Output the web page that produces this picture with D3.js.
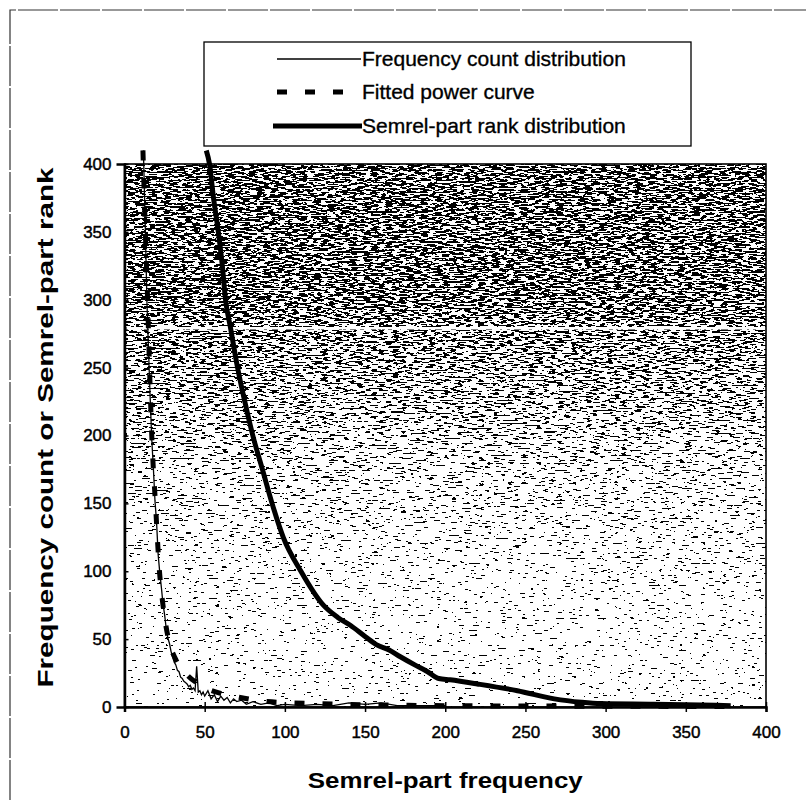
<!DOCTYPE html>
<html>
<head>
<meta charset="utf-8">
<script src="https://d3js.org/d3.v7.min.js"></script>
<style>
  body { margin: 0; background: #fff; }
  svg { display: block; }
  .tick-label { font-family: "Liberation Sans", Arial, sans-serif; font-size: 17px; fill: #000; stroke: #000; stroke-width: 0.45px; }
  .axis-title { font-family: "Liberation Sans", Arial, sans-serif; font-size: 22px; font-weight: bold; fill: #000; }
  .legend-text { font-family: "Liberation Sans", Arial, sans-serif; font-size: 21px; fill: #000; stroke: #000; stroke-width: 0.35px; }
</style>
</head>
<body>
<script>
(function() {

  // Frequency count distribution (semrel-part frequency -> count)
  var freqX = [11.8, 13, 14, 15, 16, 17, 18, 19, 20, 21, 22, 23, 24, 25, 26, 27, 28, 29, 30, 31, 32, 33, 34, 35, 36, 37, 38, 39, 40, 41, 42, 43, 44, 45, 46, 47, 48, 49, 50, 52, 54, 56, 58, 60, 62, 64, 66, 68, 70, 73, 76, 80, 85, 90, 95, 100, 110, 120, 130, 140, 150, 160, 170, 200];
  var freqCount = [410, 352, 298, 262, 228, 197, 176, 152, 136, 112, 99, 88, 76, 68, 58, 51, 47, 41, 37, 33, 31, 27, 26, 22, 21, 19, 18, 17, 15, 16, 13, 14, 12, 30, 11, 12, 9, 11, 8, 12, 6, 9, 4, 8, 5, 7, 3, 6, 4, 5, 2, 4, 2, 3, 1, 2, 1, 2, 1, 3, 2, 3, 1, 1];

  // Fitted power curve
  var powerX = [11.5, 13, 14.4, 15.6, 17, 19.3, 21.8, 24, 27.4, 32, 38, 49, 60, 68, 89, 120, 160, 200, 260, 320, 380];
  var powerY = [410, 350, 300, 250, 200, 150, 100, 75, 50, 35, 25, 15, 10, 8, 4, 2.5, 1.5, 1, 0.7, 0.5, 0.4];

  // Semrel-part rank distribution (frequency -> rank)
  var rankX = [51, 53, 55.5, 58.5, 61, 63, 66, 70.5, 75, 80, 86, 92, 99, 110, 124, 133, 141, 150, 157, 165, 172, 181, 189, 196, 203, 220, 245, 268, 285, 297, 330, 378];
  var rankY = [410, 400, 375, 350, 325, 300, 280, 250, 225, 200, 175, 150, 125, 100, 75, 66, 60, 52, 46, 42, 37, 31, 26, 21, 20, 17, 12, 6, 3.5, 2.5, 2, 1];

  // Axis ticks and labels
  var xTicks = [0, 50, 100, 150, 200, 250, 300, 350, 400];
  var yTicks = [0, 50, 100, 150, 200, 250, 300, 350, 400];
  var xTitle = "Semrel-part frequency";
  var yTitle = "Frequency count or Semrel-part rank";
  var legendLabels = ["Frequency count distribution", "Fitted power curve", "Semrel-part rank distribution"];

  // Scan artefact: white streak across the shading
  var scanLineValue = 279;

  window.onload = setChart();

  function setChart() {
    var width = 806,
        height = 811;

    var svg = d3.select("body")
        .append("svg")
        .attr("width", width)
        .attr("height", height);

    var plot = { left: 124.5, right: 766, top: 164, bottom: 707 };

    var xScale = d3.scaleLinear()
        .domain([0, 400])
        .range([plot.left, plot.right]);
    var yScale = d3.scaleLinear()
        .domain([0, 400])
        .range([plot.bottom, plot.top]);

    setShading(svg, plot, yScale);

    // Outer chart border (only top and left survive in the scan)
    svg.append("path")
        .attr("d", "M10,800V10H806")
        .attr("fill", "none")
        .attr("stroke", "#333")
        .attr("stroke-width", 1.2)
        .attr("stroke-dasharray", "40,2");

    // Plot frame
    svg.append("rect")
        .attr("x", plot.left)
        .attr("y", plot.top)
        .attr("width", plot.right - plot.left)
        .attr("height", plot.bottom - plot.top)
        .attr("fill", "none")
        .attr("stroke", "#000")
        .attr("stroke-width", 1.6);

    setAxes(svg, plot, xScale, yScale);
    setLines(svg, xScale, yScale);
    setLegend(svg);
  };

  // Noisy grey shading of the plot area
  function setShading(svg, plot, yScale) {
    var defs = svg.append("defs");

    var grad = defs.append("linearGradient")
        .attr("id", "shade")
        .attr("x1", 0).attr("y1", 0)
        .attr("x2", 0).attr("y2", 1);
    [[0, "#787878"], [0.25, "#7e7e7e"], [0.45, "#aaaaaa"], [0.6, "#d2d2d2"], [0.8, "#ececec"], [1, "#f4f4f4"]].forEach(function(s) {
      grad.append("stop").attr("offset", s[0]).attr("stop-color", s[1]);
    });

    var filter = defs.append("filter")
        .attr("id", "grain")
        .attr("x", 0).attr("y", 0)
        .attr("width", 1).attr("height", 1)
        .attr("color-interpolation-filters", "sRGB");
    filter.append("feTurbulence")
        .attr("type", "fractalNoise")
        .attr("baseFrequency", "0.14 0.6")
        .attr("numOctaves", 2)
        .attr("seed", 7)
        .attr("result", "noise");
    filter.append("feColorMatrix")
        .attr("in", "noise")
        .attr("type", "matrix")
        .attr("values", "1 0 0 0 0  1 0 0 0 0  1 0 0 0 0  0 0 0 0 1")
        .attr("result", "grey");
    filter.append("feComposite")
        .attr("in", "SourceGraphic")
        .attr("in2", "grey")
        .attr("operator", "arithmetic")
        .attr("k1", 0).attr("k2", 1).attr("k3", 2.2).attr("k4", -1.1)
        .attr("result", "mix");
    var ct = filter.append("feComponentTransfer").attr("in", "mix");
    ["feFuncR", "feFuncG", "feFuncB"].forEach(function(f) {
      ct.append(f).attr("type", "discrete").attr("tableValues", "0 1");
    });

    svg.append("rect")
        .attr("x", plot.left)
        .attr("y", plot.top)
        .attr("width", plot.right - plot.left)
        .attr("height", plot.bottom - plot.top)
        .attr("fill", "url(#shade)")
        .attr("filter", "url(#grain)");

    svg.append("line")
        .attr("x1", plot.left + 2)
        .attr("x2", plot.right - 2)
        .attr("y1", yScale(scanLineValue))
        .attr("y2", yScale(scanLineValue))
        .attr("stroke", "#fff")
        .attr("stroke-width", 2.5);
  };

  // Axes with cross ticks
  function setAxes(svg, plot, xScale, yScale) {
    var xAxis = svg.append("g")
        .attr("transform", "translate(0," + plot.bottom + ")")
        .call(d3.axisBottom(xScale).tickValues(xTicks).tickSize(5).tickFormat(d3.format("d")));
    xAxis.select(".domain").attr("stroke-width", 2.5);
    xAxis.selectAll(".tick line").attr("y1", -5).attr("stroke-width", 1.5);
    xAxis.selectAll(".tick text")
        .attr("class", "tick-label")
        .attr("y", 25)
        .attr("dy", "0.35em")
        .attr("font-family", null)
        .attr("font-size", null);

    var yAxis = svg.append("g")
        .attr("transform", "translate(" + plot.left + ",0)")
        .call(d3.axisLeft(yScale).tickValues(yTicks).tickSize(8).tickFormat(d3.format("d")));
    yAxis.select(".domain").attr("stroke-width", 2.5);
    yAxis.selectAll(".tick line").attr("x2", 4).attr("stroke-width", 1.5);
    yAxis.selectAll(".tick text")
        .attr("class", "tick-label")
        .attr("x", -13)
        .attr("font-family", null)
        .attr("font-size", null);
    svg.selectAll(".domain").attr("stroke", "#000");

    svg.append("text")
        .attr("class", "axis-title")
        .attr("x", (plot.left + plot.right) / 2)
        .attr("y", 788)
        .attr("text-anchor", "middle")
        .attr("textLength", 275)
        .attr("lengthAdjust", "spacingAndGlyphs")
        .text(xTitle);

    svg.append("text")
        .attr("class", "axis-title")
        .attr("transform", "translate(53," + ((plot.top + plot.bottom) / 2 - 8) + ") rotate(-90)")
        .attr("text-anchor", "middle")
        .attr("textLength", 520)
        .attr("lengthAdjust", "spacingAndGlyphs")
        .text(yTitle);
  };

  // Data lines
  function setLines(svg, xScale, yScale) {
    var line = d3.line()
        .x(function(d) { return xScale(d[0]); })
        .y(function(d) { return yScale(d[1]); });

    var freqData = freqX.map(function(x, i) { return [x, freqCount[i]]; });
    var powerData = powerX.map(function(x, i) { return [x, powerY[i]]; });
    var rankData = rankX.map(function(x, i) { return [x, rankY[i]]; });

    svg.append("path")
        .datum(freqData)
        .attr("d", line)
        .attr("fill", "none")
        .attr("stroke", "#000")
        .attr("stroke-width", 1.3);

    svg.append("path")
        .datum(powerData)
        .attr("d", line.curve(d3.curveMonotoneX))
        .attr("fill", "none")
        .attr("stroke", "#000")
        .attr("stroke-width", 5)
        .attr("stroke-dasharray", "10,18");

    svg.append("path")
        .datum(rankData)
        .attr("d", line.curve(d3.curveMonotoneX))
        .attr("fill", "none")
        .attr("stroke", "#000")
        .attr("stroke-width", 5)
        .attr("stroke-linejoin", "round");
  };

  // Legend box
  function setLegend(svg) {
    var legend = svg.append("g");
    legend.append("rect")
        .attr("x", 204)
        .attr("y", 42)
        .attr("width", 487)
        .attr("height", 104)
        .attr("fill", "#fff")
        .attr("stroke", "#000")
        .attr("stroke-width", 1.3);

    var rows = [
      { y: 59, x1: 277, x2: 361, width: 1.3, dash: null },
      { y: 92, x1: 277, x2: 347, width: 5, dash: "10,18" },
      { y: 126, x1: 273, x2: 362, width: 5, dash: null }
    ];

    rows.forEach(function(r, i) {
      legend.append("line")
          .attr("x1", r.x1).attr("x2", r.x2)
          .attr("y1", r.y).attr("y2", r.y)
          .attr("stroke", "#000")
          .attr("stroke-width", r.width)
          .attr("stroke-dasharray", r.dash);
      legend.append("text")
          .attr("class", "legend-text")
          .attr("x", 362)
          .attr("y", r.y + 7)
          .text(legendLabels[i]);
    });
  };

})();
</script>
</body>
</html>
